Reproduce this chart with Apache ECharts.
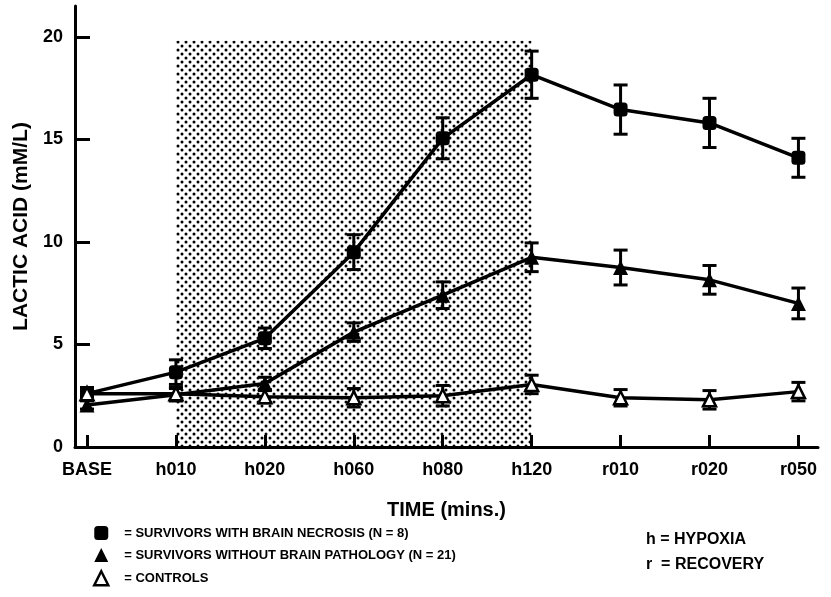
<!DOCTYPE html>
<html>
<head>
<meta charset="utf-8">
<script src="https://cdn.jsdelivr.net/npm/echarts@6/dist/echarts.min.js"></script>
<style>
  html, body { margin: 0; background: #fff; }
  #chart { width: 831px; height: 597px; }
</style>
</head>
<body>
<div id="chart"></div>
<script>
// time points
const times = ['BASE', 'h010', 'h020', 'h060', 'h080', 'h120', 'r010', 'r020', 'r050'];

// lactic acid, mM/L (mean and error)
const necrosis = [2.6, 3.65, 5.3, 9.5, 15.05, 18.15, 16.45, 15.8, 14.1];
const necrosisErr = [0.2, 0.6, 0.5, 0.85, 1.0, 1.15, 1.2, 1.2, 0.95];
const noPathology = [2.05, 2.55, 3.1, 5.6, 7.4, 9.25, 8.75, 8.15, 7.0];
const noPathologyErr = [0.2, 0.3, 0.3, 0.45, 0.65, 0.7, 0.85, 0.7, 0.75];
const controls = [2.6, 2.6, 2.45, 2.4, 2.5, 3.05, 2.4, 2.3, 2.7];
const controlsErr = [0.3, 0.3, 0.3, 0.45, 0.5, 0.45, 0.4, 0.45, 0.45];

const seriesNames = [
    'SURVIVORS WITH BRAIN NECROSIS (N = 8)',
    'SURVIVORS WITHOUT BRAIN PATHOLOGY (N = 21)',
    'CONTROLS'
];

// hypoxia period (shaded)
const hypoxiaFrom = 'h010';
const hypoxiaTo = 'h120';
const hypoxiaTop = 19.8;

const yTicks = [0, 5, 10, 15, 20];

const FONT = "'Liberation Sans', Arial, sans-serif";

// dotted fill like the screen in the print
const dots = document.createElement('canvas');
dots.width = 8;
dots.height = 8;
const dctx = dots.getContext('2d');
dctx.fillStyle = '#000';
[[2, 2], [6, 6]].forEach(p => {
    dctx.beginPath();
    dctx.arc(p[0], p[1], 1.5, 0, Math.PI * 2);
    dctx.fill();
});

const toPoints = vals => vals.map((v, i) => [i, v]);

function errorBars(vals, errs) {
    return {
        type: 'custom',
        z: 2,
        silent: true,
        data: vals.map((v, i) => [i, v - errs[i], v + errs[i]]),
        renderItem: function (params, api) {
            const lo = api.coord([api.value(0), api.value(1)]);
            const hi = api.coord([api.value(0), api.value(2)]);
            const cap = 7;
            const style = { stroke: '#000', lineWidth: 3 };
            return {
                type: 'group',
                children: [
                    { type: 'line', shape: { x1: lo[0], y1: lo[1], x2: hi[0], y2: hi[1] }, style: style },
                    { type: 'line', shape: { x1: lo[0] - cap, y1: lo[1], x2: lo[0] + cap, y2: lo[1] }, style: style },
                    { type: 'line', shape: { x1: hi[0] - cap, y1: hi[1], x2: hi[0] + cap, y2: hi[1] }, style: style }
                ]
            };
        }
    };
}

const lineStyle = { color: '#000', width: 3.5 };

const chart = echarts.init(document.getElementById('chart'));

chart.setOption({
    animation: false,
    backgroundColor: '#fff',
    textStyle: { fontFamily: FONT },
    grid: { left: 75, right: 13, top: 6, bottom: 150 },
    xAxis: {
        type: 'value',
        min: -0.135,
        max: 8.22,
        name: 'TIME (mins.)',
        nameLocation: 'middle',
        nameGap: 53,
        nameTextStyle: { fontSize: 20, fontWeight: 'bold', color: '#000', fontFamily: FONT },
        axisLine: { lineStyle: { color: '#000', width: 3 } },
        axisTick: {
            inside: true, length: 12,
            customValues: times.map((t, i) => i),
            lineStyle: { color: '#000', width: 3 }
        },
        axisLabel: {
            customValues: times.map((t, i) => i),
            formatter: v => times[Math.round(v)],
            margin: 14,
            fontSize: 18, fontWeight: 'bold', color: '#000', fontFamily: FONT
        },
        splitLine: { show: false }
    },
    yAxis: {
        type: 'value',
        min: 0,
        max: 21.5,
        name: 'LACTIC ACID (mM/L)',
        nameLocation: 'middle',
        nameRotate: 90,
        nameGap: 41,
        nameTextStyle: { fontSize: 21, fontWeight: 'bold', color: '#000', fontFamily: FONT },
        axisLine: { onZero: false, lineStyle: { color: '#000', width: 3 } },
        axisTick: {
            inside: true, length: 15,
            customValues: yTicks,
            lineStyle: { color: '#000', width: 3 }
        },
        axisLabel: {
            customValues: yTicks,
            margin: 12,
            fontSize: 18, fontWeight: 'bold', color: '#000', fontFamily: FONT
        },
        splitLine: { show: false }
    },
    legend: {
        orient: 'vertical',
        left: 93,
        top: 526,
        height: 70,
        padding: 0,
        itemWidth: 14,
        itemHeight: 14,
        itemGap: 8,
        selectedMode: false,
        formatter: n => '= ' + n,
        textStyle: { fontSize: 13, fontWeight: 'bold', color: '#000', fontFamily: FONT, lineHeight: 14, padding: [0, 0, 0, 11] },
        data: [
            { name: seriesNames[0], icon: 'roundRect', itemStyle: { color: '#000' } },
            { name: seriesNames[1], icon: 'triangle', itemStyle: { color: '#000' } },
            { name: seriesNames[2], icon: 'triangle', itemStyle: { color: '#fff', borderColor: '#000', borderWidth: 2.5 } }
        ]
    },
    graphic: [
        { type: 'text', left: 646, top: 532, style: { text: 'h = HYPOXIA', font: 'bold 16px ' + FONT, fill: '#000' } },
        { type: 'text', left: 646, top: 557, style: { text: 'r  = RECOVERY', font: 'bold 16px ' + FONT, fill: '#000' } }
    ],
    series: [
        {
            type: 'line',
            data: [],
            z: 1,
            silent: true,
            markArea: {
                silent: true,
                itemStyle: { color: { image: dots, repeat: 'repeat' } },
                data: [[
                    { xAxis: times.indexOf(hypoxiaFrom), yAxis: 0 },
                    { xAxis: times.indexOf(hypoxiaTo), yAxis: hypoxiaTop }
                ]]
            }
        },
        errorBars(necrosis, necrosisErr),
        errorBars(noPathology, noPathologyErr),
        errorBars(controls, controlsErr),
        {
            name: seriesNames[0],
            type: 'line',
            z: 3,
            data: toPoints(necrosis),
            symbol: 'roundRect',
            symbolSize: 14,
            lineStyle: lineStyle,
            itemStyle: { color: '#000' }
        },
        {
            name: seriesNames[1],
            type: 'line',
            z: 4,
            data: toPoints(noPathology),
            symbol: 'triangle',
            symbolSize: 15,
            lineStyle: lineStyle,
            itemStyle: { color: '#000' }
        },
        {
            name: seriesNames[2],
            type: 'line',
            z: 5,
            data: toPoints(controls),
            symbol: 'triangle',
            symbolSize: 13,
            lineStyle: lineStyle,
            itemStyle: { color: '#fff', borderColor: '#000', borderWidth: 2.5 }
        }
    ]
});
</script>
</body>
</html>
